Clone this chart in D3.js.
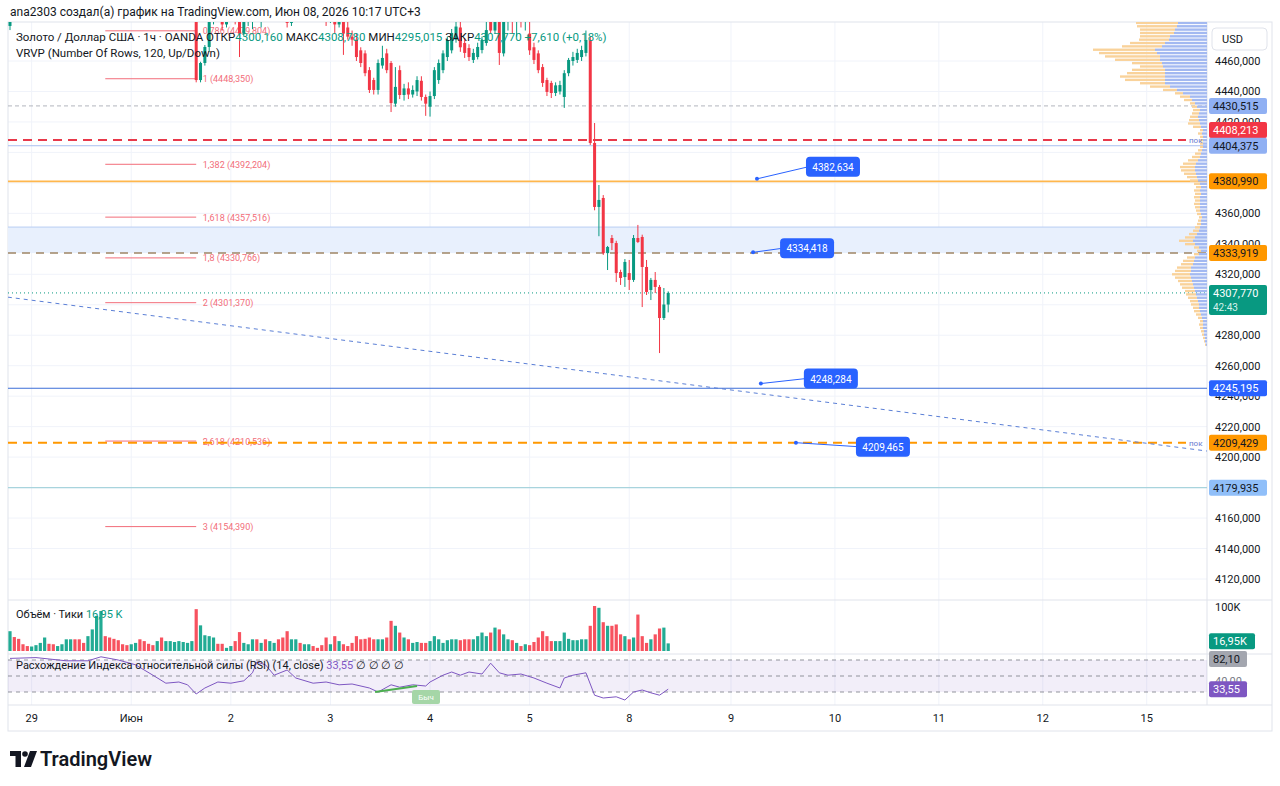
<!DOCTYPE html>
<html>
<head>
<meta charset="utf-8">
<script src="https://cdn.jsdelivr.net/npm/d3@7"></script>
<style>
  body { margin: 0; background: #fff; }
  text { font-family: Roboto, "Noto Sans", sans-serif; }
</style>
</head>
<body>
<script>
// ---------- data ----------
const opens = [4483,4496,4493,4490,4489,4488,4491,4493,4496,4501,4498,4496,4498,4500,4504,4507,4503,4500,4498,4503,
  4509,4516,4523,4518,4513,4509,4506,4504,4502,4505,4507,4503,4500,4498,4496,4500,4496,4499,4502,4504,
  4507,4509,4511,4513,4447.5,4458.7,4469.2,4488,4495,4490,4484,4488,4491,4486,4478,4490,4493,4498,4492,4496,
  4491,4495,4498,4494,4490,4485,4492,4496,4493,4495,4497,4495,4493,4490,4486,4492,4484,4489,4482,4476,
  4474,4467,4465,4454,4447.5,4441,4457,4465,4458.7,4432,4454,4437.7,4442,4438,4440,4447,4436.4,4430,4437,4447.5,
  4454,4462.6,4467,4474,4482,4471.8,4468.5,4460.7,4462.6,4467.2,4471.8,4490,4480,4490,4465,4490,4495,4488,4494,4486,
  4478,4469,4465,4456,4447.5,4445.6,4439,4440,4436.4,4452,4460,4460.7,4462.6,4465.3,4473.8,4406.2,4364.2,4370.1,4333.9,4343.8,
  4340.5,4321.5,4318.2,4320.8,4316.3,4343.8,4344.5,4324.8,4309.7,4316.3,4311.7,4291.3,4300.16];
const highs = [4492,4499,4495,4492,4491,4492,4494,4497,4502,4503,4500,4499,4501,4505,4508,4509,4505,4502,4504,4510,
  4518,4526,4525,4520,4515,4511,4508,4506,4506,4508,4509,4505,4502,4500,4501,4502,4500,4503,4505,4508,
  4510,4512,4515,4515,4459.5,4470.5,4490,4497,4497,4493,4490,4493,4494,4489,4492,4495,4500,4500,4497,4498,
  4497,4500,4500,4496,4493,4494,4498,4498,4497,4499,4499,4497,4495,4492,4494,4494,4491,4492,4489,4480,
  4478,4469,4467,4456,4449,4461,4470,4468,4460,4456,4457,4445,4446,4444,4450,4450,4438,4440,4456,4461,
  4467,4476,4481,4489,4489,4475,4471,4468,4472,4476,4486,4495,4492,4495,4495,4498,4497,4496,4497,4495,
  4490,4472,4467,4458,4449,4447,4446,4447,4454,4462,4466,4468,4470,4480,4476,4419.3,4378.6,4372,4338.6,4345.8,
  4342,4323,4330,4329.4,4345.8,4352.4,4346,4329.4,4317.6,4321.5,4313,4311,4308.78];
const lows = [4480.3,4492,4489,4488,4487,4487,4490,4492,4495,4497,4495,4495,4497,4499,4502,4502,4499,4497,4497,4502,
  4507,4514,4517,4512,4508,4505,4503,4501,4501,4503,4502,4499,4497,4495,4495,4495,4494,4497,4500,4502,
  4505,4507,4509,4446,4446,4457,4466,4484,4488,4480,4482,4486,4484,4462.6,4476,4483,4481,4490,4482,4489,
  4490,4493,4492,4488,4482,4483,4490,4491,4491,4493,4494,4492,4489,4483,4485,4478.4,4482,4464,4474,4470,
  4460,4456,4450,4439,4438,4438,4455,4452,4426.5,4430,4435,4434,4435,4436,4437,4434,4424,4423.5,4435,4445,
  4452,4460,4465,4472,4466,4462,4460,4458.7,4461,4465,4470,4478,4478,4457.4,4463,4480,4478,4476,4482,4480,
  4464,4458,4452,4443,4437,4435.7,4437,4438,4429.2,4450,4457,4458.7,4460,4463,4404.9,4362,4345,4332.7,4322.8,4335.9,
  4314.9,4313,4311.7,4309.7,4315,4340.5,4298.5,4306.4,4303.1,4307.7,4268.3,4290,4295.015];
const closes = [4490,4493,4490,4489,4488,4491,4493,4496,4501,4498,4496,4498,4500,4504,4507,4503,4500,4498,4503,4509,
  4516,4523,4518,4513,4509,4506,4504,4502,4505,4507,4503,4500,4498,4496,4500,4496,4499,4502,4504,4507,
  4509,4511,4513,4447.5,4458.7,4469.2,4488,4495,4490,4484,4488,4491,4486,4478,4490,4493,4498,4492,4496,4491,
  4495,4498,4494,4490,4485,4492,4496,4493,4495,4497,4495,4493,4490,4486,4492,4484,4489,4478,4476,4474,
  4462.6,4458.7,4452,4441,4441,4458.7,4462,4454,4432.4,4443,4437.7,4442,4438,4441,4447.5,4436.4,4432,4437,4454,4458.7,
  4465,4473.8,4478.4,4482.6,4469,4465.3,4462.6,4465.3,4469.2,4473.8,4480.3,4480,4490,4465.3,4490,4495,4488,4494,4486,4492,
  4467,4460.7,4454,4445.6,4439.7,4439,4444,4444.2,4452,4460.7,4462.6,4465.3,4467.2,4473.8,4406.2,4364.2,4368.8,4333.9,4337.9,4340.5,
  4320.8,4317.6,4328.1,4316.3,4343.8,4341.2,4324.8,4308.4,4316.3,4311.7,4291.3,4300.16,4307.77];
const volumes = [44,31,27,15,11,10,13,18,30,16,15,11,15,26,26,26,26,18,33,48,
  78,89,33,30,27,24,15,13,15,18,26,22,16,13,22,30,22,22,20,22,
  20,18,22,93,57,35,33,30,16,16,7,11,22,42,18,15,26,26,18,26,
  22,18,26,30,44,26,26,18,15,15,11,7,13,30,15,33,22,15,11,18,
  33,26,27,30,26,26,26,30,67,56,41,30,26,18,20,18,18,22,33,26,
  18,24,26,26,24,26,26,26,33,41,33,41,52,48,37,26,24,18,11,15,
  13,20,30,44,33,22,22,22,41,27,24,24,26,26,56,100,96,64,56,56,
  59,37,33,26,30,81,33,18,26,37,50,52,16.95];

const rsiBars = [0,6,13,18,21,25,29,33,36,39,41,43,45,48,51,54,56,57,59,61,64,66,70,73,76,79,83,85,88,90,93,96,97,
  100,102,104,106,109,111,113,115,118,121,124,127,128,130,133,135,137,140,142,144,146,148,150,152];
const rsiVals = [72,73,69,69,74,70,64,51,41,42.5,39,27.5,35,42.5,41,44,54,67.5,64,51,57.5,47.5,41,42.5,39,40,35,30,39,36,39,37.5,42.5,
  51,55,51,55,52.5,66,54,51,52.5,47.5,41,35,47.5,51,54,26,22.5,24,20,30,32.5,29,26,33.55];

const dayTicks = [5, 28, 51, 74, 97, 120, 143, 166.5, 190.5, 214.5, 238.5, 262.5];
const dayLabels = ["29", "Июн", "2", "3", "4", "5", "8", "9", "10", "11", "12", "15"];
const priceTicks = [4460, 4440, 4420, 4400, 4380, 4360, 4340, 4320, 4300, 4280, 4260, 4240, 4220, 4200, 4180, 4160, 4140, 4120];
// ticks whose text sits fully under a coloured price label
const hiddenTicks = [4400, 4380, 4300, 4180];

const fibRatios = ["0,786", "1", "1,382", "1,618", "1,8", "2", "2,618", "3"];
const fibPrices = [4479.804, 4448.350, 4392.204, 4357.516, 4330.766, 4301.370, 4210.536, 4154.390];

// volume profile rows, bottom to top
const vrvpBase = 4268.3, vrvpStep = 2.2;
const vrvpUp = [0,0,1,2,2,3,3,4,4,4,5,6,7,8,8,9,10,11,12,13,14,15,16,17,16,16,14,13,12,8,
  6,8,12,14,12,10,8,7,6,6,5,6,7,7,7,7,7,6,7,6,7,9,10,11,12,12,11,9,7,6,
  5,4,4,4,4,5,4,6,7,8,9,8,7,10,12,15,17,24,30,37,42,42,42,42,42,44,45,47,47,50,
  52,45,42,38,37,33,32,30,29,28];
const vrvpDown = [0,0,1,1,2,2,3,3,4,3,4,5,6,6,8,8,9,10,10,12,13,14,16,18,16,14,12,11,8,5,
  4,5,10,14,10,8,6,5,4,3,3,4,4,5,6,5,6,6,6,5,6,8,10,12,14,15,13,10,8,6,
  4,3,3,3,3,4,3,8,12,10,8,7,7,5,5,8,10,8,14,20,25,40,45,38,33,23,30,45,55,58,
  62,40,35,30,30,34,35,40,42,38];

const calloutPrices = [4382.634, 4334.418, 4248.284, 4209.465];
const calloutBars = [172.5, 171.6, 173.4, 181.5];

const header = "ana2303 создал(а) график на TradingView.com, Июн 08, 2026 10:17 UTC+3";

// ---------- layout ----------
const W = 1280, H = 786;
const plotL = 8, plotR = 1207, axisR = 1272;
const priceTop = 22, priceBot = 600, volBot = 654, rsiBot = 705, timeBot = 731;

const svg = d3.select("body").append("svg")
  .attr("width", W)
  .attr("height", H);

const x = d3.scaleLinear().domain([0, 152]).range([10, 668.2]);
const y = d3.scaleLinear().domain([4120, 4460]).range([579, 61]);
const yVol = d3.scaleLinear().domain([0, 100]).range([651, 606]);
const yRsi = d3.scaleLinear().domain([30, 70]).range([692, 660]);
const wProfile = d3.scaleLinear().domain([0, 100]).range([0, 100]);

const fmt = v => d3.format(".3f")(v).replace(".", ",");
const up = i => closes[i] >= opens[i];
const GREEN = "#089981", RED = "#f23645";

svg.append("defs").append("clipPath").attr("id", "pclip")
  .append("rect").attr("x", plotL).attr("y", priceTop).attr("width", plotR - plotL).attr("height", priceBot - priceTop);
svg.select("defs").append("clipPath").attr("id", "rclip")
  .append("rect").attr("x", plotL).attr("y", volBot).attr("width", plotR - plotL).attr("height", rsiBot - volBot);

// header
svg.append("text").attr("x", 10).attr("y", 16).attr("font-size", 12).attr("fill", "#131722").text(header);

// grid
const grid = svg.append("g");
grid.selectAll("line.v").data(dayTicks).enter().append("line")
  .attr("x1", d => x(d)).attr("x2", d => x(d))
  .attr("y1", priceTop).attr("y2", rsiBot)
  .attr("stroke", "#f0f3fa");
grid.selectAll("line.h").data(priceTicks).enter().append("line")
  .attr("x1", plotL).attr("x2", plotR)
  .attr("y1", d => y(d)).attr("y2", d => y(d))
  .attr("stroke", "#f0f3fa");

// frame and separators
const frame = svg.append("g").attr("stroke", "#e0e3eb").attr("fill", "none");
frame.append("rect").attr("x", plotL).attr("y", priceTop).attr("width", axisR - plotL).attr("height", timeBot - priceTop);
frame.append("line").attr("x1", plotR).attr("x2", plotR).attr("y1", priceTop).attr("y2", rsiBot);
[priceBot, volBot, rsiBot].forEach(v => frame.append("line").attr("x1", plotL).attr("x2", axisR).attr("y1", v).attr("y2", v));

// ---------- price pane drawings ----------
const pane = svg.append("g").attr("clip-path", "url(#pclip)");

// blue zone
pane.append("rect").attr("x", plotL).attr("width", plotR - plotL)
  .attr("y", y(4351)).attr("height", y(4333.919) - y(4351))
  .attr("fill", "#e8f0fd");
pane.append("line").attr("x1", plotL).attr("x2", plotR).attr("y1", y(4351)).attr("y2", y(4351))
  .attr("stroke", "#b9cdf3");

// horizontal levels
function hline(price, color, width, dash, x2) {
  pane.append("line").attr("x1", plotL).attr("x2", x2 || plotR)
    .attr("y1", y(price)).attr("y2", y(price))
    .attr("stroke", color).attr("stroke-width", width)
    .attr("stroke-dasharray", dash || null);
}
hline(4430.515, "#b2b5be", 1, "4,3");
hline(4404.375, "#a9bff0", 1);
hline(4408.213, "#e8394a", 2, "9,6", 1186);
hline(4380.990, "#ffb74d", 1.6);
hline(4333.919, "#9e8566", 1.5, "8,6");
hline(4307.770, GREEN, 1, "1,3");
hline(4245.195, "#3d6fd8", 1);
hline(4179.935, "#a8d4dd", 1.2);

// fib extension
pane.selectAll("line.fib").data(fibPrices).enter().append("line")
  .attr("x1", x(22)).attr("x2", x(43))
  .attr("y1", d => y(d)).attr("y2", d => y(d))
  .attr("stroke", "#f26d7a").attr("stroke-width", 1);
pane.selectAll("text.fib").data(fibPrices).enter().append("text")
  .attr("x", x(44.5)).attr("y", d => y(d) + 3.5)
  .attr("font-size", 9).attr("fill", "#f26d7a")
  .text((d, i) => fibRatios[i] + " (" + fmt(d) + ")");

hline(4209.429, "#ff9800", 2, "9,6", 1186);

// trend line
pane.append("line")
  .attr("x1", x(-0.5)).attr("y1", y(4305))
  .attr("x2", x(276.4)).attr("y2", y(4204))
  .attr("stroke", "#5b7fd6").attr("stroke-width", 1).attr("stroke-dasharray", "4,4");

// volume profile
const prof = pane.append("g");
const rowTop = i => y(vrvpBase + (i + 1) * vrvpStep) + 0.5;
const rowH = y(vrvpBase) - y(vrvpBase + vrvpStep) - 1;
prof.selectAll("rect.up").data(vrvpUp).enter().append("rect")
  .attr("x", d => plotR - wProfile(d)).attr("width", d => wProfile(d))
  .attr("y", (d, i) => rowTop(i)).attr("height", rowH)
  .attr("fill", "#a3b9f1");
prof.selectAll("rect.dn").data(vrvpDown).enter().append("rect")
  .attr("x", (d, i) => plotR - wProfile(vrvpUp[i]) - wProfile(d)).attr("width", d => wProfile(d))
  .attr("y", (d, i) => rowTop(i)).attr("height", rowH)
  .attr("fill", "#f9d29a");

// candles
const candles = pane.append("g").selectAll("g").data(closes).enter().append("g");
candles.append("line")
  .attr("x1", (d, i) => x(i)).attr("x2", (d, i) => x(i))
  .attr("y1", (d, i) => y(highs[i])).attr("y2", (d, i) => y(lows[i]))
  .attr("stroke", (d, i) => up(i) ? GREEN : RED);
candles.append("rect")
  .attr("x", (d, i) => x(i) - 1.5).attr("width", 3)
  .attr("y", (d, i) => y(Math.max(opens[i], closes[i])))
  .attr("height", (d, i) => Math.max(1, Math.abs(y(opens[i]) - y(closes[i]))))
  .attr("fill", (d, i) => up(i) ? GREEN : RED);

// "пок" tags
[4408.213, 4209.429].forEach(p => pane.append("text")
  .attr("x", 1189).attr("y", y(p) + 3).attr("font-size", 8).attr("fill", "#6a7bd1").text("пок"));

// callouts
const offsets = [[49, -22], [27, -14], [43, -15], [60, -6]];
calloutPrices.forEach((p, i) => {
  const ax = x(calloutBars[i]), ay = y(p);
  const bx = ax + offsets[i][0], by = ay + offsets[i][1];
  pane.append("line").attr("x1", ax).attr("y1", ay).attr("x2", bx + 2).attr("y2", by + 10)
    .attr("stroke", "#2962ff").attr("stroke-width", 1);
  pane.append("circle").attr("cx", ax).attr("cy", ay).attr("r", 2).attr("fill", "#2962ff");
  pane.append("rect").attr("x", bx).attr("y", by).attr("width", 54).attr("height", 20).attr("rx", 4)
    .attr("fill", "#2962ff");
  pane.append("text").attr("x", bx + 27).attr("y", by + 14).attr("text-anchor", "middle")
    .attr("font-size", 10).attr("fill", "#fff").text(fmt(p));
});

// legend
const leg = svg.append("text").attr("x", 16).attr("y", 41).attr("font-size", 11.5).attr("fill", "#131722");
leg.append("tspan").text("Золото / Доллар США · 1ч · OANDA  ");
[["ОТКР", "4300,160"], ["МАКС", "4308,780"], ["МИН", "4295,015"], ["ЗАКР", "4307,770"]].forEach(([k, v]) => {
  leg.append("tspan").attr("fill", "#131722").text(" " + k);
  leg.append("tspan").attr("fill", GREEN).text(v + " ");
});
leg.append("tspan").attr("fill", GREEN).text("+7,610 (+0,18%)");
svg.append("text").attr("x", 16).attr("y", 57).attr("font-size", 11.5).attr("fill", "#131722")
  .text("VRVP (Number Of Rows, 120, Up/Down)");

// ---------- volume pane ----------
svg.append("g").selectAll("rect").data(volumes).enter().append("rect")
  .attr("x", (d, i) => x(i) - 1.6).attr("width", 3.2)
  .attr("y", d => yVol(d)).attr("height", d => yVol(0) - yVol(d))
  .attr("fill", (d, i) => up(i) ? "#22ab94" : "#f7525f");
const vleg = svg.append("text").attr("x", 16).attr("y", 618).attr("font-size", 11).attr("fill", "#131722");
vleg.append("tspan").text("Объём · Тики  ");
vleg.append("tspan").attr("fill", GREEN).text("16,95 K");

// ---------- RSI pane ----------
const rsiG = svg.append("g").attr("clip-path", "url(#rclip)");
rsiG.append("rect").attr("x", plotL).attr("width", plotR - plotL)
  .attr("y", yRsi(70)).attr("height", yRsi(30) - yRsi(70))
  .attr("fill", "#7e57c2").attr("fill-opacity", 0.1);
[70, 50, 30].forEach(v => rsiG.append("line")
  .attr("x1", plotL).attr("x2", plotR).attr("y1", yRsi(v)).attr("y2", yRsi(v))
  .attr("stroke", "#787b86").attr("stroke-dasharray", "4,4").attr("stroke-opacity", 0.8));
rsiG.append("path")
  .attr("d", d3.line().x((d, i) => x(rsiBars[i])).y(d => yRsi(d))(rsiVals))
  .attr("fill", "none").attr("stroke", "#7e57c2").attr("stroke-width", 1);
rsiG.append("line")
  .attr("x1", x(84.3)).attr("y1", yRsi(30)).attr("x2", x(94)).attr("y2", yRsi(37.5))
  .attr("stroke", "#4caf50").attr("stroke-width", 2);
rsiG.append("rect").attr("x", 412).attr("y", 690).attr("width", 28).attr("height", 14).attr("rx", 2)
  .attr("fill", "#a5d6a7");
rsiG.append("text").attr("x", 426).attr("y", 700).attr("text-anchor", "middle")
  .attr("font-size", 8).attr("fill", "#fff").text("Быч");
const rleg = svg.append("text").attr("x", 16).attr("y", 669).attr("font-size", 11).attr("fill", "#131722");
rleg.append("tspan").text("Расхождение Индекса относительной силы (RSI) (14, close)  ");
rleg.append("tspan").attr("fill", "#7e57c2").text("33,55  ");
rleg.append("tspan").text("∅  ∅  ∅  ∅");

// ---------- right axis ----------
const axisG = svg.append("g").attr("font-size", 11).attr("fill", "#131722");
axisG.selectAll("text").data(priceTicks.filter(t => !hiddenTicks.includes(t))).enter().append("text")
  .attr("x", 1215).attr("y", d => y(d) + 4)
  .text(d => d3.format(".3f")(d).replace(".", ","));
axisG.append("text").attr("x", 1215).attr("y", yVol(100) + 5).text("100K");
axisG.append("text").attr("x", 1215).attr("y", yRsi(40) + 1).attr("fill", "#787b86").text("40,00");
svg.append("rect").attr("x", 1212).attr("y", 28).attr("width", 55).attr("height", 22).attr("rx", 4)
  .attr("fill", "#fff").attr("stroke", "#e0e3eb");
svg.append("text").attr("x", 1222).attr("y", 43).attr("font-size", 11).attr("fill", "#131722").text("USD");

const axisLabels = [
  { v: 4430.515, c: y(4430.515), bg: "#90b0f3", fg: "#131722" },
  { v: 4408.213, c: y(4408.213) - 10, bg: "#f23645", fg: "#fff" },
  { v: 4404.375, c: y(4404.375), bg: "#90b0f3", fg: "#131722" },
  { v: 4380.990, c: y(4380.990), bg: "#ff9800", fg: "#131722" },
  { v: 4333.919, c: y(4333.919), bg: "#ff9800", fg: "#131722" },
  { v: 4245.195, c: y(4245.195), bg: "#2962ff", fg: "#fff" },
  { v: 4209.429, c: y(4209.429), bg: "#ff9800", fg: "#131722" },
  { v: 4179.935, c: y(4179.935), bg: "#90bff9", fg: "#131722" }
];
axisLabels.forEach(l => {
  svg.append("rect").attr("x", 1209).attr("y", l.c - 8).attr("width", 58).attr("height", 16).attr("rx", 2).attr("fill", l.bg);
  svg.append("text").attr("x", 1213).attr("y", l.c + 4).attr("font-size", 11).attr("fill", l.fg).text(fmt(l.v));
});
// last price with countdown
const lp = y(4307.770);
svg.append("rect").attr("x", 1209).attr("y", lp - 8).attr("width", 58).attr("height", 30).attr("rx", 2).attr("fill", GREEN);
svg.append("text").attr("x", 1213).attr("y", lp + 4).attr("font-size", 11).attr("fill", "#fff").text("4307,770");
svg.append("text").attr("x", 1213).attr("y", lp + 18).attr("font-size", 10).attr("fill", "#d6f2ec").text("42:43");
// volume / rsi values
[[yVol(16.95) - 2, "16,95K", GREEN, "#fff", 46], [yRsi(70) - 1, "82,10", "#a3a6af", "#131722", 38], [yRsi(33.55), "33,55", "#7e57c2", "#fff", 38]]
  .forEach(([c, t, bg, fg, w]) => {
    svg.append("rect").attr("x", 1209).attr("y", c - 8).attr("width", w).attr("height", 16).attr("rx", 2).attr("fill", bg);
    svg.append("text").attr("x", 1213).attr("y", c + 4).attr("font-size", 11).attr("fill", fg).text(t);
  });

// ---------- time axis ----------
svg.append("g").selectAll("text").data(dayTicks).enter().append("text")
  .attr("x", d => x(d)).attr("y", 722).attr("text-anchor", "middle")
  .attr("font-size", 11).attr("fill", "#131722")
  .text((d, i) => dayLabels[i]);

// ---------- logo ----------
const logo = svg.append("g").attr("fill", "#131722");
logo.append("path").attr("d", "M10 751 H21 V767 H15.5 V756 H10 Z");
logo.append("circle").attr("cx", 25).attr("cy", 754).attr("r", 2.8);
logo.append("path").attr("d", "M30 751 H37 L31 767 H24 Z");
svg.append("text").attr("x", 40).attr("y", 766).attr("font-size", 20).attr("font-weight", 600)
  .attr("fill", "#131722").text("TradingView");
</script>
</body>
</html>
